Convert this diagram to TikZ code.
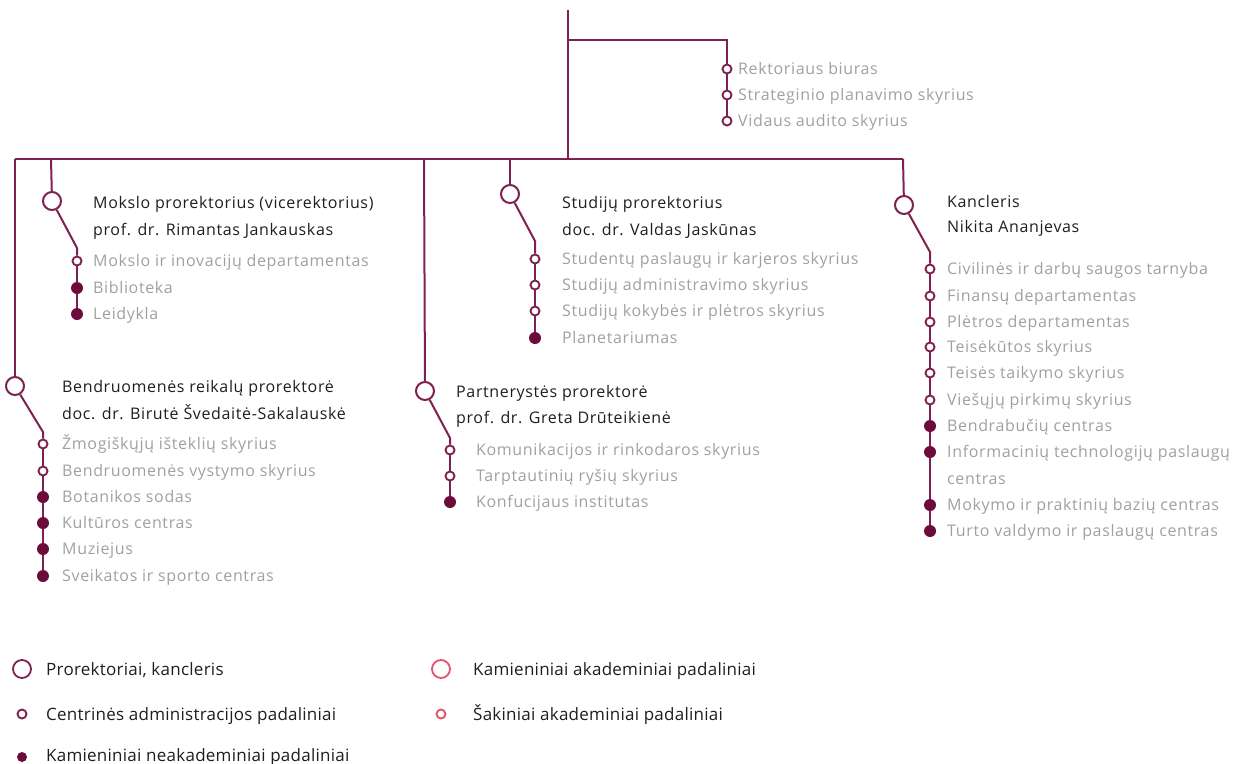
\documentclass[tikz,border=0pt]{standalone}
\usepackage{fontspec}
\setmainfont[LetterSpace=4]{Open Sans}
\newfontfamily\legfont[LetterSpace=1.5]{Open Sans}
\definecolor{lineC}{HTML}{7F2150}
\definecolor{dotC}{HTML}{6E0B3D}
\definecolor{pinkC}{HTML}{E2546B}
\definecolor{greyT}{HTML}{A0A0A0}
\definecolor{darkT}{HTML}{1E1E1E}
\begin{document}
\begin{tikzpicture}[x=1pt,y=-1pt,
 conn/.style={draw=lineC, line width=2pt},
 bigc/.style={circle, draw=lineC, line width=2pt, fill=white, minimum size=18pt, inner sep=0pt},
 smallc/.style={circle, draw=lineC, line width=1.9pt, fill=white, minimum size=9pt, inner sep=0pt},
 filledc/.style={circle, fill=dotC, minimum size=12pt, inner sep=0pt},
 unit/.style={anchor=base west, yshift=-5.6pt, text=greyT, font=\fontsize{16}{18}\selectfont, inner sep=0pt},
 head/.style={anchor=base west, yshift=-5.6pt, text=darkT, font=\fontsize{16}{18}\selectfont, inner sep=0pt},
 leg/.style={anchor=base west, yshift=-6pt, text=darkT, font=\legfont\fontsize{17}{18}\selectfont, inner sep=0pt},
]
\useasboundingbox (0,0) rectangle (1250,763);

% ---- top structure
\coordinate (top) at (568,10);
\coordinate (topJ) at (568,40);
\coordinate (busC) at (568,159);
\coordinate (busL) at (15,159);
\coordinate (busR) at (903,159);
\coordinate (busM) at (51,159);
\coordinate (busP) at (424,159);
\coordinate (busS) at (510,159);

% ---- Rektoriaus group
\node[smallc] (r1) at (727,69) {};
\node[smallc] (r2) at (727,95) {};
\node[smallc] (r3) at (727,121) {};
\node[unit] (r1t) at (738,69) {Rektoriaus biuras};
\node[unit] (r2t) at (738,95) {Strateginio planavimo skyrius};
\node[unit] (r3t) at (738,121) {Vidaus audito skyrius};

% ---- Mokslo
\node[bigc] (m) at (52,201) {};
\coordinate (mb) at (77,248);
\node[smallc] (m1) at (77,261) {};
\node[filledc] (m2) at (77,288) {};
\node[filledc] (m3) at (77,314) {};
\node[head] (mh1) at (93,203) {Mokslo prorektorius (vicerektorius)};
\node[head] (mh2) at (93,230) {prof. dr. Rimantas Jankauskas};
\node[unit] (m1t) at (93,261) {Mokslo ir inovacijų departamentas};
\node[unit] (m2t) at (93,288) {Biblioteka};
\node[unit] (m3t) at (93,314) {Leidykla};

% ---- Studiju
\node[bigc] (s) at (510,194) {};
\coordinate (sb) at (535,241);
\node[smallc] (s1) at (535,259) {};
\node[smallc] (s2) at (535,285) {};
\node[smallc] (s3) at (535,311) {};
\node[filledc] (s4) at (535,338) {};
\node[head] (sh1) at (562,203) {Studijų prorektorius};
\node[head] (sh2) at (562,230) {doc. dr. Valdas Jaskūnas};
\node[unit] (s1t) at (562,259) {Studentų paslaugų ir karjeros skyrius};
\node[unit] (s2t) at (562,285) {Studijų administravimo skyrius};
\node[unit] (s3t) at (562,311) {Studijų kokybės ir plėtros skyrius};
\node[unit] (s4t) at (562,338) {Planetariumas};

% ---- Kancleris
\node[bigc] (k) at (904,205) {};
\coordinate (kb) at (930,252);
\node[smallc] (k1) at (930,269) {};
\node[smallc] (k2) at (930,296) {};
\node[smallc] (k3) at (930,322) {};
\node[smallc] (k4) at (930,347) {};
\node[smallc] (k5) at (930,373) {};
\node[smallc] (k6) at (930,400) {};
\node[filledc] (k7) at (930,426) {};
\node[filledc] (k8) at (930,452) {};
\node[filledc] (k9) at (930,505) {};
\node[filledc] (k10) at (930,531) {};
\node[head] (kh1) at (947,202) {Kancleris};
\node[head] (kh2) at (947,227) {Nikita Ananjevas};
\node[unit] (k1t) at (947,269) {Civilinės ir darbų saugos tarnyba};
\node[unit] (k2t) at (947,296) {Finansų departamentas};
\node[unit] (k3t) at (947,322) {Plėtros departamentas};
\node[unit] (k4t) at (947,347) {Teisėkūtos skyrius};
\node[unit] (k5t) at (947,373) {Teisės taikymo skyrius};
\node[unit] (k6t) at (947,400) {Viešųjų pirkimų skyrius};
\node[unit] (k7t) at (947,426) {Bendrabučių centras};
\node[unit] (k8t) at (947,452) {Informacinių technologijų paslaugų};
\node[unit] (k8u) at (947,479) {centras};
\node[unit] (k9t) at (947,505) {Mokymo ir praktinių bazių centras};
\node[unit] (k10t) at (947,531) {Turto valdymo ir paslaugų centras};

% ---- Bendruomenes
\node[bigc] (b) at (15,386) {};
\coordinate (bb) at (43,432);
\node[smallc] (b1) at (43,444) {};
\node[smallc] (b2) at (43,471) {};
\node[filledc] (b3) at (43,497) {};
\node[filledc] (b4) at (43,523) {};
\node[filledc] (b5) at (43,549) {};
\node[filledc] (b6) at (43,576) {};
\node[head] (bh1) at (62,387) {Bendruomenės reikalų prorektorė};
\node[head] (bh2) at (62,414) {doc. dr. Birutė Švedaitė-Sakalauskė};
\node[unit] (b1t) at (62,444) {Žmogiškųjų išteklių skyrius};
\node[unit] (b2t) at (62,471) {Bendruomenės vystymo skyrius};
\node[unit] (b3t) at (62,497) {Botanikos sodas};
\node[unit] (b4t) at (62,523) {Kultūros centras};
\node[unit] (b5t) at (62,549) {Muziejus};
\node[unit] (b6t) at (62,576) {Sveikatos ir sporto centras};

% ---- Partnerystes
\node[bigc] (p) at (425,391) {};
\coordinate (pb) at (450,438);
\node[smallc] (p1) at (450,450) {};
\node[smallc] (p2) at (450,476) {};
\node[filledc] (p3) at (450,502) {};
\node[head] (ph1) at (456,392) {Partnerystės prorektorė};
\node[head] (ph2) at (456,418) {prof. dr. Greta Drūteikienė};
\node[unit] (p1t) at (476,450) {Komunikacijos ir rinkodaros skyrius};
\node[unit] (p2t) at (476,476) {Tarptautinių ryšių skyrius};
\node[unit] (p3t) at (476,502) {Konfucijaus institutas};

% ---- connectors
\draw[conn] (top) -- (busC);
\draw[conn] (topJ) -| (r1);
\draw[conn] (r1) -- (r2);
\draw[conn] (r2) -- (r3);
\draw[conn] (busL) -- (busR);
\draw[conn] (busL) -- (b);
\draw[conn] (busM) -- (m);
\draw[conn] (busP) -- (p);
\draw[conn] (busS) -- (s);
\draw[conn] (busR) -- (k);
\draw[conn] (m) -- (mb) -- (m1);
\draw[conn] (m1) -- (m2) -- (m3);
\draw[conn] (s) -- (sb) -- (s1);
\draw[conn] (s1) -- (s2) -- (s3) -- (s4);
\draw[conn] (k) -- (kb) -- (k1);
\draw[conn] (k1) -- (k2) -- (k3) -- (k4) -- (k5) -- (k6) -- (k7) -- (k8) -- (k9) -- (k10);
\draw[conn] (b) -- (bb) -- (b1);
\draw[conn] (b1) -- (b2) -- (b3) -- (b4) -- (b5) -- (b6);
\draw[conn] (p) -- (pb) -- (p1);
\draw[conn] (p1) -- (p2) -- (p3);

% ---- legend
\node[bigc, line width=1.8pt] (l1) at (22,669) {};
\node[smallc] (l2) at (22,714) {};
\node[filledc, minimum size=10pt] (l3) at (22,757) {};
\node[bigc, draw=pinkC, line width=1.8pt] (l4) at (441,669) {};
\node[smallc, draw=pinkC] (l5) at (441,714) {};
\node[leg] (l1t) at (46,669) {Prorektoriai, kancleris};
\node[leg] (l2t) at (46,714) {Centrinės administracijos padaliniai};
\node[leg] (l3t) at (46,755) {Kamieniniai neakademiniai padaliniai};
\node[leg] (l4t) at (473,669) {Kamieniniai akademiniai padaliniai};
\node[leg] (l5t) at (473,714) {Šakiniai akademiniai padaliniai};
\end{tikzpicture}
\end{document}
